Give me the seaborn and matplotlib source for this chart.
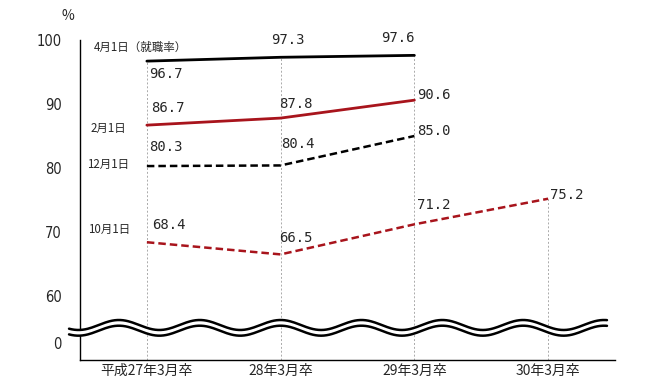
import numpy as np
import pandas as pd
import matplotlib
matplotlib.use('Agg')
import matplotlib.pyplot as plt
import seaborn as sns

categories = ['平成27年3月卒', '28年3月卒', '29年3月卒', '30年3月卒']
apr1 = [96.7, 97.3, 97.6, np.nan]
feb1 = [86.7, 87.8, 90.6, np.nan]
dec1 = [80.3, 80.4, 85.0, np.nan]
oct1 = [68.4, 66.5, 71.2, 75.2]
series_names = ['4月1日（就職率）', '2月1日', '12月1日', '10月1日']
y_ticks = [60, 70, 80, 90, 100]

sns.set_style('white')
plt.rcParams['font.family'] = ['Noto Sans CJK JP', 'DejaVu Sans']

RED = '#A8141C'

df = pd.DataFrame({'x': np.arange(len(categories)),
                   'apr1': apr1, 'feb1': feb1, 'dec1': dec1, 'oct1': oct1})

fig = plt.figure(figsize=(6.45, 3.86), dpi=100)
ax = fig.add_axes([80 / 645, 1 - 360 / 386, 535 / 645, 320 / 386])

# drop lines from the highest point of each category
tops = df[['apr1', 'feb1', 'dec1', 'oct1']].max(axis=1)
for x, top in zip(df['x'], tops):
    ax.plot([x, x], [50, top], color='#aaaaaa', lw=0.7, ls=(0, (2, 2)), zorder=1)

sns.lineplot(data=df, x='x', y='apr1', ax=ax, color='black', lw=2, zorder=3)
sns.lineplot(data=df, x='x', y='feb1', ax=ax, color=RED, lw=2, zorder=3)
sns.lineplot(data=df, x='x', y='dec1', ax=ax, color='black', lw=1.8, ls=(0, (3, 1.6)), zorder=3)
sns.lineplot(data=df, x='x', y='oct1', ax=ax, color=RED, lw=1.8, ls=(0, (3, 1.6)), zorder=3)

ax.set_xlim(-0.5, 3.5)
ax.set_ylim(50, 100)
ax.set_yticks(y_ticks + [52.66])
ax.set_yticklabels([str(v) for v in y_ticks] + ['0'], fontsize=10.5,
                   family='DejaVu Sans', stretch='condensed')
ax.tick_params(axis='y', direction='in', length=3, width=0.8, pad=13)
ax.set_xticks(df['x'])
ax.set_xticklabels(categories, fontsize=10)
ax.tick_params(axis='x', length=0, pad=3)
ax.set_xlabel('')
ax.set_ylabel('')
sns.despine(ax=ax)
for s in ['left', 'bottom']:
    ax.spines[s].set_linewidth(1.0)
    ax.spines[s].set_color('black')

# value labels: (dx px, dy px, ha)
mono = 'DejaVu Sans Mono'
label_pos = {
    'apr1': [(2, -13, 'left'), (-10, 17, 'left'), (0, 17, 'right'), None],
    'feb1': [(4, 17, 'left'), (-2, 14, 'left'), (3, 5, 'left'), None],
    'dec1': [(2, 19, 'left'), (0, 21, 'left'), (3, 5, 'left'), None],
    'oct1': [(5, 17, 'left'), (-1, 16, 'left'), (3, 19, 'left'), (2, 4, 'left')],
}
for key, poss in label_pos.items():
    for x, v, p in zip(df['x'], df[key], poss):
        if p is None or np.isnan(v):
            continue
        ax.annotate(f'{v:.1f}', (x, v), xytext=(p[0], p[1]), textcoords='offset pixels',
                    ha=p[2], va='center', fontsize=10, family=mono)

# series names on the left
name_pos = [(-0.40, 98.9), (-0.42, 86.2), (-0.45, 80.5), (-0.44, 70.4)]
for name, (x, y) in zip(series_names, name_pos):
    ax.text(x, y, name, fontsize=8.3, ha='left', va='center')

ax.text(-0.59, 103.7, '%', fontsize=10, ha='center', va='center', clip_on=False)

# axis break wave
period = 81 / 134
xs = np.linspace(-0.582, 3.44, 400)
phase = np.cos(2 * np.pi * (xs + 0.209) / period)
amp = 0.78
upper = 55.47 + amp * phase
lower = 54.58 + amp * phase
ax.fill_between(xs, lower, upper, color='white', zorder=5, clip_on=False, lw=0)
ax.plot(xs, upper, color='black', lw=1.8, zorder=6, clip_on=False)
ax.plot(xs, lower, color='black', lw=1.8, zorder=6, clip_on=False)

fig.savefig('out.png', dpi=100)
